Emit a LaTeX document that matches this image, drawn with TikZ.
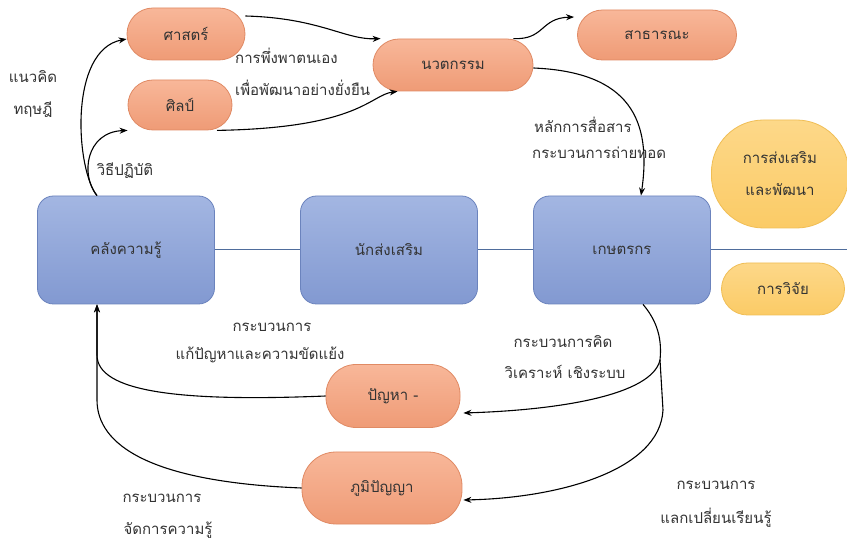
\documentclass[tikz,border=0pt]{standalone}
\usepackage{fontspec}
\newfontfamily\thaifont[Script=Thai]{Loma}
\usetikzlibrary{arrows.meta}
\definecolor{txt}{HTML}{333333}
\definecolor{orTop}{HTML}{F8B799}
\definecolor{orBot}{HTML}{EF9B76}
\definecolor{orLine}{HTML}{E08A64}
\definecolor{blTop}{HTML}{A3B6E2}
\definecolor{blBot}{HTML}{8299D1}
\definecolor{blLine}{HTML}{6B83BD}
\definecolor{yeTop}{HTML}{FDD889}
\definecolor{yeBot}{HTML}{FBCB66}
\definecolor{yeLine}{HTML}{F0BE55}
\definecolor{conn}{HTML}{4F6D9C}
\tikzset{
  every node/.style={font=\thaifont\fontsize{15}{18}\selectfont, text=txt},
  pillbox/.style={draw=orLine, line width=0.8pt, top color=orTop, bottom color=orBot, rounded corners=#1, inner sep=0pt},
  bluebox/.style={draw=blLine, line width=0.8pt, top color=blTop, bottom color=blBot, rounded corners=16pt, minimum width=177pt, minimum height=108pt, inner sep=0pt},
  yellowbox/.style={draw=yeLine, line width=0.8pt, top color=yeTop, bottom color=yeBot, rounded corners=#1, inner sep=0pt},
  arr/.style={draw=black, line width=1.1pt, -{Stealth[length=8pt,width=6pt]}},
  plainline/.style={draw=black, line width=1.1pt},
  link/.style={draw=conn, line width=1pt},
  lbl/.style={align=center, inner sep=0pt}
}
\begin{document}
\begin{tikzpicture}[x=1pt, y=-1pt]
\useasboundingbox[fill=white] (0,0) rectangle (847,545);

% orange pills
\node[pillbox=26pt, minimum width=118pt, minimum height=52pt] (sast) at (186,34) {ศาสตร์};
\node[pillbox=25pt, minimum width=104pt, minimum height=50pt] (silp) at (180,105) {ศิลป์};
\node[pillbox=26pt, minimum width=160pt, minimum height=52pt] (nav) at (453,65) {นวตกรรม};
\node[pillbox=25pt, minimum width=159pt, minimum height=50pt] (publ) at (657,35) {สาธารณะ};
\node[pillbox=30pt, minimum width=134pt, minimum height=63pt] (prob) at (393,396) {ปัญหา -};
\node[pillbox=34pt, minimum width=160pt, minimum height=72pt] (wis) at (382,488) {ภูมิปัญญา};

% yellow
\node[yellowbox=52pt, minimum width=137pt, minimum height=108pt, align=center] (prom) at (780,174) {การส่งเสริม\\[14pt]และพัฒนา};
\node[yellowbox=26pt, minimum width=123pt, minimum height=52pt] (res) at (783,289) {การวิจัย};

% blue boxes
\node[bluebox] (know) at (126,250) {คลังความรู้};
\node[bluebox] (ext) at (389,250) {นักส่งเสริม};
\node[bluebox] (farm) at (622,250) {เกษตรกร};
\coordinate (rightend) at (847,250);

% links
\draw[link] (know.east) -- (ext.west);
\draw[link] (ext.east) -- (farm.west);
\draw[link] (farm.east) -- (rightend);

% top-left arrows
\draw[arr] ([xshift=-29pt]know.north) .. controls (76,170) and (68,50) .. ([yshift=-5pt]sast.west);
\draw[arr] ([xshift=-29pt]know.north) .. controls (80,175) and (86,132) .. (silp.south west);

% to innovation
\draw[arr] ([yshift=18pt]sast.east) .. controls (320,18) and (345,40) .. ([xshift=8pt]nav.north west);
\draw[arr] ([xshift=37pt]silp.south) .. controls (360,128) and (370,95) .. ([xshift=25pt]nav.south west);

% from innovation
\draw[arr] ([xshift=-20pt]nav.north east) .. controls (545,40) and (540,18) .. ([xshift=-3pt,yshift=18pt]publ.west);
\draw[arr] ([yshift=-3pt]nav.east) .. controls (630,72) and (652,120) .. ([xshift=19pt]farm.north);

% bottom-left arrows into knowledge
\draw[arr] (prob.west) .. controls (180,402) and (97,392) .. (97,355) -- ([xshift=-29pt]know.south);
\draw[arr] (wis.west) .. controls (150,482) and (97,445) .. (97,400) -- ([xshift=-29pt]know.south);

% from farmer downward
\coordinate (fsplit) at (660,360);
\draw[plainline] ([xshift=21pt]farm.south) .. controls (658,322) and (662,340) .. (fsplit);
\draw[arr] (fsplit) .. controls (652,395) and (560,410) .. ([shift={(3pt,-17pt)}]prob.east);
\draw[arr] (fsplit) -- (663,410) .. controls (660,470) and (560,498) .. ([shift={(1pt,-12pt)}]wis.east);

% labels
\node[lbl] (l1) at (33,77) {แนวคิด};
\node[lbl] (l2) at (33,110) {ทฤษฎี};
\node[lbl] (l3) at (125,171) {วิธีปฏิบัติ};
\node[lbl, anchor=west] (l4) at (235,56) {การพึ่งพาตนเอง};
\node[lbl, anchor=west] (l5) at (235,88) {เพื่อพัฒนาอย่างยั่งยืน};
\node[lbl, anchor=west] (l6) at (534,125) {หลักการสื่อสาร};
\node[lbl, anchor=west] (l7) at (532,153) {กระบวนการถ่ายทอด};
\node[lbl] (l8) at (272,327) {กระบวนการ};
\node[lbl] (l9) at (260,355) {แก้ปัญหาและความขัดแย้ง};
\node[lbl] (l10) at (563,342) {กระบวนการคิด};
\node[lbl] (l11) at (565,372) {วิเคราะห์ เชิงระบบ};
\node[lbl] (l12) at (162,498) {กระบวนการ};
\node[lbl] (l13) at (168,530) {จัดการความรู้};
\node[lbl] (l14) at (716,485) {กระบวนการ};
\node[lbl] (l15) at (716,518) {แลกเปลี่ยนเรียนรู้};
\end{tikzpicture}
\end{document}
